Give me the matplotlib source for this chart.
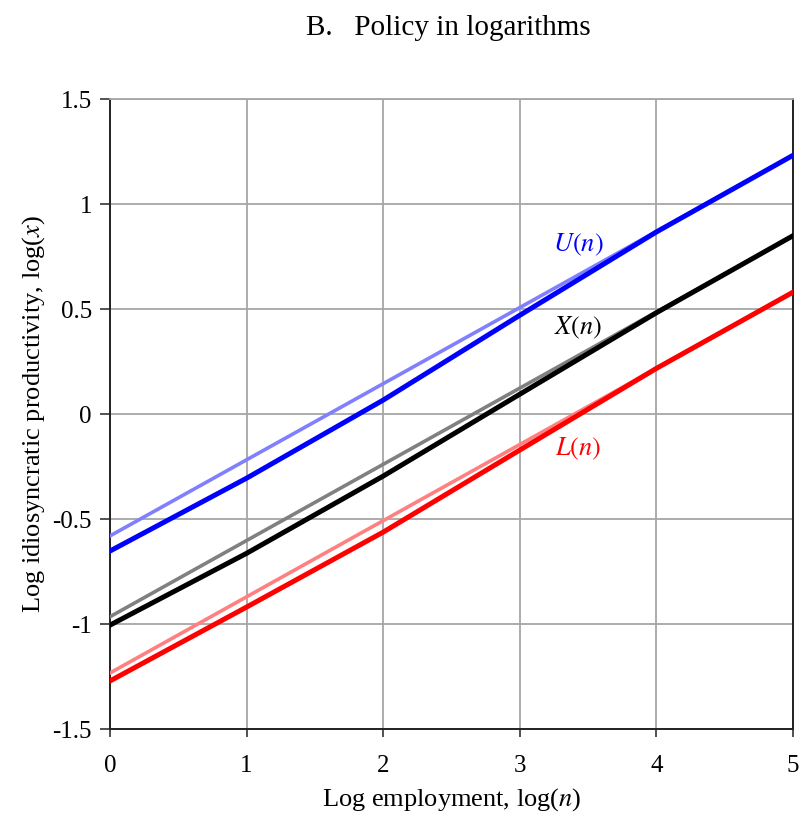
import matplotlib
matplotlib.use("Agg")
import matplotlib.pyplot as plt
from matplotlib.ticker import FuncFormatter

# Datos
log_n = [0, 1, 2, 3, 4, 5]
log_n_recta = [0, 5]

U_sin = [-0.58, 1.233]
X_sin = [-0.965, 0.85]
L_sin = [-1.233, 0.581]

U_con = [-0.652, -0.305, 0.067, 0.471, 0.868, 1.233]
X_con = [-1.005, -0.663, -0.295, 0.095, 0.483, 0.85]
L_con = [-1.271, -0.919, -0.562, -0.171, 0.218, 0.581]

x_ticks = [0, 1, 2, 3, 4, 5]
y_ticks = [-1.5, -1, -0.5, 0, 0.5, 1, 1.5]

plt.rcParams['font.family'] = ['Liberation Serif', 'DejaVu Serif']
plt.rcParams['mathtext.fontset'] = 'stix'

fig = plt.figure(figsize=(8.03, 8.14), dpi=100)
ax = fig.add_axes([0.137, 0.1044, 0.8505, 0.7736])

# Líneas claras (sin política)
ax.plot(log_n_recta, U_sin, color='#8080ff', lw=2.6, zorder=3)
ax.plot(log_n_recta, X_sin, color='#808080', lw=2.6, zorder=3)
ax.plot(log_n_recta, L_sin, color='#ff8080', lw=2.6, zorder=3)

# Líneas oscuras (con política)
ax.plot(log_n, U_con, color='#0000ff', lw=3.6, zorder=4)
ax.plot(log_n, X_con, color='black', lw=3.6, zorder=4)
ax.plot(log_n, L_con, color='#ff0000', lw=3.6, zorder=4)

ax.text(3.43, 0.805, '$U(n)$', color='#0000ff', fontsize=19, ha='center', va='center')
ax.text(3.43, 0.41, '$X(n)$', color='black', fontsize=19, ha='center', va='center')
ax.text(3.43, -0.167, '$L(n)$', color='#ff0000', fontsize=19, ha='center', va='center')

ax.set_xlim(0, 5)
ax.set_ylim(-1.5, 1.5)
ax.set_xticks(x_ticks)
ax.set_yticks(y_ticks)
ax.yaxis.set_major_formatter(FuncFormatter(lambda v, p: ('%g' % v).replace('\u2212', '-')))
ax.tick_params(axis='both', labelsize=18, width=1.2, color='#333333')
ax.tick_params(axis='x', direction='out', length=6, pad=13)
ax.tick_params(axis='y', direction='out', length=7, pad=6)

ax.grid(True, color='#a6a6a6', lw=1.3)
ax.set_axisbelow(True)
for lado in ['left', 'bottom', 'right']:
    ax.spines[lado].set_color('#222222')
    ax.spines[lado].set_linewidth(1.4)
ax.spines['top'].set_color('#a6a6a6')
ax.spines['top'].set_linewidth(1.3)

ax.set_xlabel('Log employment, log($n$)', fontsize=19, labelpad=6)
ax.set_ylabel('Log idiosyncratic productivity, log($x$)', fontsize=19, labelpad=4)
fig.text(0.5586, 0.966, 'B.   Policy in logarithms', fontsize=21, ha='center', va='center')

fig.savefig('out.png', dpi=100)
